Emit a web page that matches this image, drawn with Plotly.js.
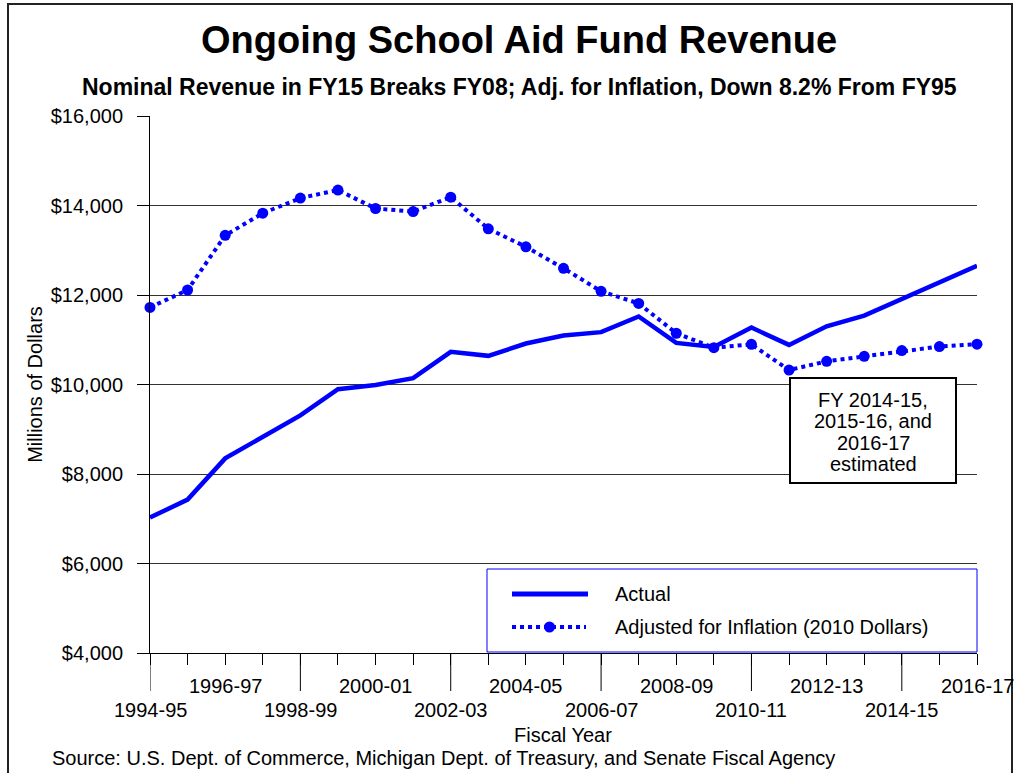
<!DOCTYPE html>
<html>
<head>
<meta charset="utf-8">
<script src="https://cdn.plot.ly/plotly-3.0.1.min.js"></script>
<style>html,body{margin:0;padding:0;background:#fff;}#chart{width:1019px;height:773px;}</style>
</head>
<body>
<div id="chart"></div>
<script>
const years = ["1994-95","1995-96","1996-97","1997-98","1998-99","1999-00","2000-01","2001-02","2002-03","2003-04","2004-05","2005-06","2006-07","2007-08","2008-09","2009-10","2010-11","2011-12","2012-13","2013-14","2014-15","2015-16","2016-17"];
const actual = [7026,7428,8349,8825,9309,9896,9990,10141,10729,10640,10915,11095,11170,11520,10930,10840,11272,10885,11300,11540,11915,12278,12653];
const adjusted = [11723,12112,13333,13828,14165,14345,13933,13865,14187,13480,13077,12597,12083,11812,11145,10822,10897,10323,10518,10630,10758,10848,10900];
const noteLines = ["FY 2014-15,","2015-16, and","2016-17","estimated"];

const idx = years.map((_,i)=>i);
const W=1019,H=773,L=150,R=42,T=116,B=120;
const pw=W-L-R, ph=H-T-B;
const px = x => (x-L)/pw;
const py = y => (H-B-y)/ph;
const FONT = "Liberation Sans, Arial, sans-serif";
const BLUE = "#0000FF";
const FS = 20;

const traces = [
  {x: idx, y: actual, type:"scatter", mode:"lines", name:"Actual",
   line:{color:BLUE, width:4.5}, showlegend:false, cliponaxis:false},
  {x: idx, y: adjusted, type:"scatter", mode:"lines+markers", name:"Adjusted for Inflation (2010 Dollars)",
   line:{color:BLUE, width:4, dash:"dot"}, marker:{color:BLUE, size:11}, showlegend:false, cliponaxis:false}
];

const annotations = [];
const shapes = [];
// x tick labels in two rows
idx.forEach(i=>{
  if(i%2!==0) return;
  const top = (i%4)===2;
  annotations.push({x:i, xref:"x", y: py(top?686:710), yref:"paper", text: years[i], showarrow:false,
    font:{family:FONT,size:FS,color:"#000"}, xanchor:"center", yanchor:"middle"});
  if(!top){
    shapes.push({type:"line", xref:"x", yref:"paper", x0:i, x1:i, y0:0, y1:py(691), line:{color:"#000",width:1}});
  }
});
// axis titles & source
annotations.push({x:px(563), xref:"paper", y:py(735), yref:"paper", text:"Fiscal Year", showarrow:false,
  font:{family:FONT,size:FS,color:"#000"}, xanchor:"center", yanchor:"middle"});
annotations.push({x:px(50), xref:"paper", y:py(758), yref:"paper", text:"Source: U.S. Dept. of Commerce, Michigan Dept. of Treasury, and Senate Fiscal Agency", showarrow:false,
  font:{family:FONT,size:FS,color:"#000"}, xanchor:"left", yanchor:"middle"});
annotations.push({x:px(519), xref:"paper", y:py(40), yref:"paper", text:"<b>Ongoing School Aid Fund Revenue</b>", showarrow:false,
  font:{family:FONT,size:38,color:"#000"}, xanchor:"center", yanchor:"middle"});
annotations.push({x:px(519), xref:"paper", y:py(87), yref:"paper", text:"<b>Nominal Revenue in FY15 Breaks FY08; Adj. for Inflation, Down 8.2% From FY95</b>", showarrow:false,
  font:{family:FONT,size:23,color:"#000"}, xanchor:"center", yanchor:"middle"});
// estimate note box
shapes.push({type:"rect", xref:"paper", yref:"paper", x0:px(790), x1:px(956), y0:py(483), y1:py(378), line:{color:"#000",width:2}, fillcolor:"#fff"});
noteLines.forEach((t,k)=>{
  annotations.push({x:px(873), xref:"paper", y:py(400+k*21.3), yref:"paper", text:t, showarrow:false,
    font:{family:FONT,size:FS,color:"#000"}, xanchor:"center", yanchor:"middle"});
});
// legend (custom)
shapes.push({type:"rect", xref:"paper", yref:"paper", x0:px(487), x1:px(977), y0:py(652), y1:py(569), line:{color:BLUE,width:1}, fillcolor:"#fff", layer:"below"});
shapes.push({type:"line", xref:"paper", yref:"paper", x0:px(512), x1:px(588), y0:py(594), y1:py(594), line:{color:BLUE,width:5}});
shapes.push({type:"line", xref:"paper", yref:"paper", x0:px(512), x1:px(586), y0:py(627), y1:py(627), line:{color:BLUE,width:4,dash:"dot"}});
shapes.push({type:"circle", xref:"paper", yref:"paper", x0:px(544), x1:px(555), y0:py(621.5), y1:py(632.5), line:{color:BLUE,width:0}, fillcolor:BLUE});
annotations.push({x:px(613), xref:"paper", y:py(594), yref:"paper", text:"Actual", showarrow:false,
  font:{family:FONT,size:FS,color:"#000"}, xanchor:"left", yanchor:"middle"});
annotations.push({x:px(613), xref:"paper", y:py(627), yref:"paper", text:"Adjusted for Inflation (2010 Dollars)", showarrow:false,
  font:{family:FONT,size:FS,color:"#000"}, xanchor:"left", yanchor:"middle"});
// outer frame
shapes.push({type:"rect", xref:"paper", yref:"paper", x0:px(8), x1:px(1012), y0:py(790), y1:py(4), line:{color:"#222",width:2}});

const layout = {
  width:W, height:H,
  margin:{l:L,r:R,t:T,b:B,pad:0},
  paper_bgcolor:"#fff", plot_bgcolor:"#fff",
  font:{family:FONT,size:FS,color:"#000"},
  showlegend:false,
  xaxis:{range:[0,22], tickvals:idx, ticktext:idx.map(()=>""), showticklabels:false,
    ticks:"outside", ticklen:11, tickcolor:"#000", tickwidth:1,
    showgrid:false, zeroline:false, showline:true, linecolor:"#000", linewidth:1, fixedrange:true},
  yaxis:{range:[4000,16000], tickvals:[4000,6000,8000,10000,12000,14000,16000], tickformat:"$,.0f",
    ticks:"outside", ticklen:12, tickcolor:"#000", showgrid:true, gridcolor:"#333", gridwidth:1,
    ticklabelstandoff:10,
    zeroline:false, showline:true, linecolor:"#000", linewidth:1,
    tickfont:{family:FONT,size:FS,color:"#000"},
    title:{text:"Millions of Dollars", font:{family:FONT,size:FS,color:"#000"}, standoff:2}},
  annotations: annotations,
  shapes: shapes
};
Plotly.newPlot("chart", traces, layout, {staticPlot:true, displayModeBar:false});
</script>
</body>
</html>
